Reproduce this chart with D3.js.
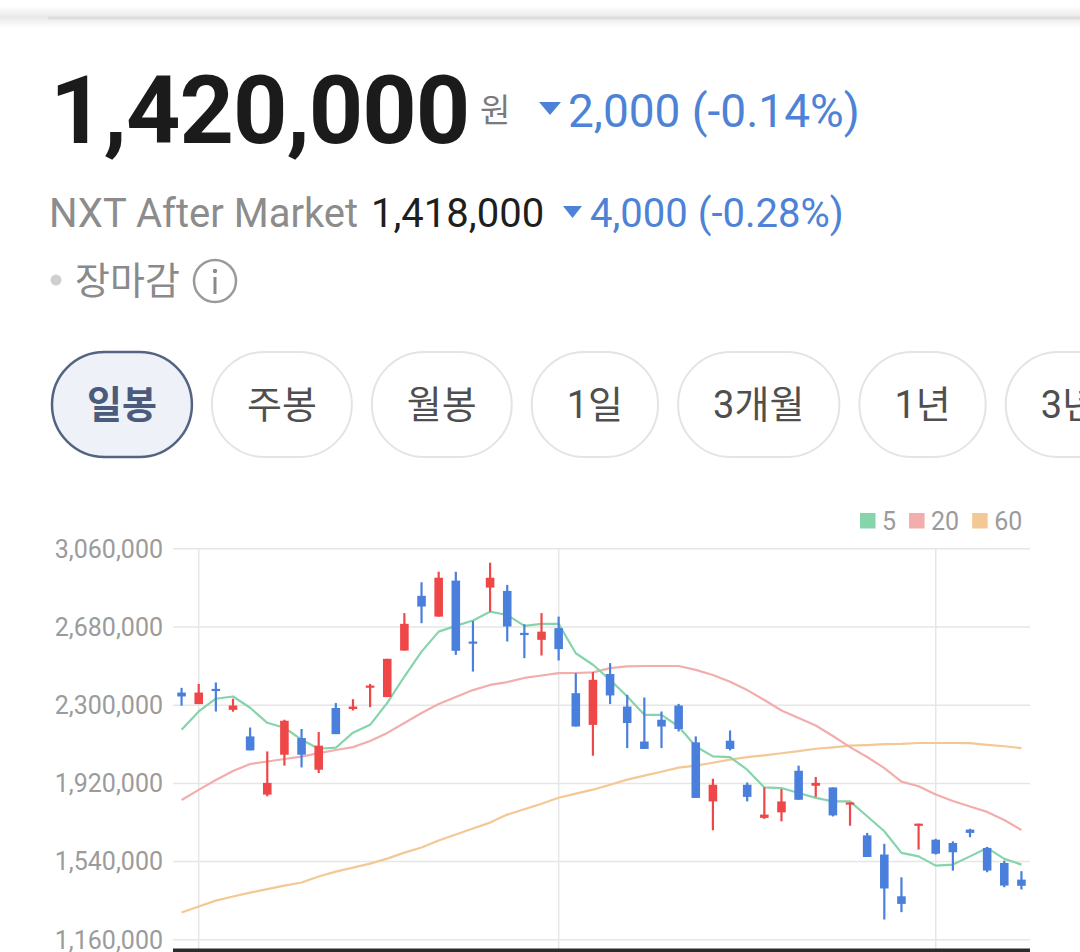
<!DOCTYPE html>
<html>
<head>
<meta charset="utf-8">
<script src="https://cdn.jsdelivr.net/npm/d3@7"></script>
<style>
  body { margin: 0; background: #fff; }
  svg { display: block; font-family: Roboto, "Noto Sans CJK KR", sans-serif; }
</style>
</head>
<body>
<svg id="page" width="1080" height="952"></svg>
<script>
// ---- header values ----
var priceText = "1,420,000", unitText = "원", changeText = "2,000 (-0.14%)";
var afterLabel = "NXT After Market", afterPrice = "1,418,000", afterChange = "4,000 (-0.28%)";
var statusText = "장마감";
var periodLabels = ["일봉", "주봉", "월봉", "1일", "3개월", "1년", "3년"];

// ---- daily candles (won) ----
var openP = [2359000, 2303000, 2377000, 2275000, 2146000, 1863000, 2057000, 2138000, 1984000, 2284000,
             2279000, 2388000, 2337000, 2563000, 2829000, 2728000, 2903000, 2607000, 2869000, 2853000,
             2649000, 2615000, 2672000, 2356000, 2202000, 2449000, 2291000, 2121000, 2227000, 2296000,
             2117000, 1830000, 2125000, 1911000, 1750000, 1777000, 1979000, 1906000, 1898000, 1819000,
             1665000, 1572000, 1369000, 1714000, 1644000, 1628000, 1693000, 1604000, 1531000, 1450000];
var highP = [2382000, 2401000, 2408000, 2329000, 2189000, 2073000, 2227000, 2182000, 2167000, 2308000,
             2327000, 2401000, 2523000, 2745000, 2895000, 2946000, 2946000, 2707000, 2990000, 2882000,
             2691000, 2745000, 2728000, 2453000, 2458000, 2502000, 2348000, 2335000, 2267000, 2304000,
             2146000, 1940000, 2175000, 1922000, 1898000, 1890000, 2004000, 1949000, 1898000, 1825000,
             1677000, 1624000, 1461000, 1722000, 1648000, 1636000, 1697000, 1609000, 1542000, 1491000];
var lowP = [2295000, 2303000, 2267000, 2266000, 2078000, 1855000, 2004000, 1995000, 1968000, 2157000,
            2272000, 2288000, 2337000, 2563000, 2696000, 2728000, 2542000, 2461000, 2752000, 2607000,
            2526000, 2539000, 2515000, 2194000, 2052000, 2303000, 2089000, 2085000, 2089000, 2170000,
            1847000, 1690000, 2078000, 1830000, 1745000, 1733000, 1838000, 1852000, 1757000, 1712000,
            1560000, 1256000, 1292000, 1596000, 1572000, 1494000, 1656000, 1486000, 1413000, 1402000];
var closeP = [2340000, 2359000, 2369000, 2296000, 2078000, 1920000, 2222000, 2057000, 2101000, 2157000,
              2291000, 2393000, 2523000, 2693000, 2777000, 2917000, 2562000, 2597000, 2917000, 2680000,
              2639000, 2655000, 2570000, 2194000, 2421000, 2345000, 2211000, 2085000, 2194000, 2182000,
              1847000, 1911000, 2085000, 1852000, 1766000, 1830000, 1838000, 1920000, 1762000, 1825000,
              1560000, 1407000, 1332000, 1722000, 1576000, 1583000, 1677000, 1494000, 1421000, 1420000];

// ---- moving averages as drawn ----
var ma5 = [2178000, 2267000, 2329000, 2340000, 2285000, 2212000, 2188000, 2130000, 2086000, 2091000,
           2164000, 2202000, 2309000, 2437000, 2558000, 2655000, 2683000, 2709000, 2752000, 2736000,
           2683000, 2693000, 2693000, 2550000, 2494000, 2421000, 2340000, 2251000, 2251000, 2194000,
           2097000, 2049000, 2045000, 1984000, 1898000, 1895000, 1871000, 1847000, 1830000, 1830000,
           1758000, 1685000, 1580000, 1563000, 1518000, 1523000, 1563000, 1604000, 1551000, 1523000];
var ma20 = [1837000, 1886000, 1934000, 1978000, 2012000, 2024000, 2036000, 2048000, 2065000, 2080000,
            2094000, 2124000, 2163000, 2211000, 2260000, 2303000, 2337000, 2371000, 2396000, 2410000,
            2430000, 2442000, 2453000, 2454000, 2457000, 2478000, 2486000, 2488000, 2488000, 2488000,
            2469000, 2444000, 2412000, 2371000, 2323000, 2272000, 2235000, 2199000, 2148000, 2094000,
            2046000, 1992000, 1926000, 1904000, 1864000, 1832000, 1805000, 1779000, 1740000, 1691000];
var ma60 = [1290000, 1319000, 1348000, 1368000, 1387000, 1404000, 1421000, 1436000, 1465000, 1489000,
            1508000, 1528000, 1552000, 1581000, 1606000, 1640000, 1669000, 1698000, 1727000, 1766000,
            1792000, 1819000, 1848000, 1868000, 1887000, 1911000, 1936000, 1955000, 1974000, 1994000,
            2004000, 2018000, 2033000, 2045000, 2054000, 2064000, 2074000, 2086000, 2093000, 2101000,
            2104000, 2108000, 2110000, 2114000, 2114000, 2114000, 2113000, 2105000, 2098000, 2089000];

var yTicks = [1160000, 1540000, 1920000, 2300000, 2680000, 3060000];
var monthStarts = [1, 22, 44];            // candles that open a new month
var legendLabels = ["5", "20", "60"];

// ---- styles ----
var upColor = "#ef4747", downColor = "#4a7fdc";
var maColors = ["#86d4ab", "#f2adad", "#f3c894"];
var blue = "#4d82d6";

var svg = d3.select("#page");

// top card shadow
var defs = svg.append("defs");
var sh = defs.append("linearGradient").attr("id", "shade").attr("x1", 0).attr("y1", 0).attr("x2", 0).attr("y2", 1);
sh.append("stop").attr("offset", "0%").attr("stop-color", "#fff");
sh.append("stop").attr("offset", "50%").attr("stop-color", "#e9e9e9");
sh.append("stop").attr("offset", "100%").attr("stop-color", "#fff");
svg.append("rect").attr("x", 0).attr("y", 6).attr("width", 1080).attr("height", 22).attr("fill", "url(#shade)");
svg.append("line").attr("x1", 48).attr("x2", 1080).attr("y1", 18).attr("y2", 18)
    .attr("stroke", "#dcdcdc").attr("stroke-width", 3);

// ---- header ----
svg.append("text").attr("x", 50).attr("y", 143)
    .style("font-size", "95px").style("font-weight", 700).style("fill", "#1b1b1b")
    .style("letter-spacing", "-1px")
    .text(priceText);
svg.append("text").attr("x", 480).attr("y", 122)
    .style("font-size", "33px").style("fill", "#7a7a7a").text(unitText);
svg.append("path").attr("d", "M539,102 L561,102 L550,115 Z").attr("fill", blue);
svg.append("text").attr("x", 568).attr("y", 127)
    .style("font-size", "46px").style("fill", blue).text(changeText);

svg.append("text").attr("x", 49).attr("y", 227)
    .style("font-size", "40px").style("fill", "#8c8c8c").text(afterLabel);
svg.append("text").attr("x", 371).attr("y", 227)
    .style("font-size", "40px").style("fill", "#1e1e1e").text(afterPrice);
svg.append("path").attr("d", "M563,206 L582,206 L572.5,218 Z").attr("fill", blue);
svg.append("text").attr("x", 590).attr("y", 227)
    .style("font-size", "40px").style("fill", blue).text(afterChange);

svg.append("circle").attr("cx", 56).attr("cy", 280).attr("r", 5.5).attr("fill", "#cfcfcf");
svg.append("text").attr("x", 75).attr("y", 294)
    .style("font-size", "38px").style("fill", "#8a8a8a").text(statusText);
svg.append("circle").attr("cx", 215).attr("cy", 281).attr("r", 21)
    .attr("fill", "none").attr("stroke", "#9a9a9a").attr("stroke-width", 2.5);
svg.append("circle").attr("cx", 215).attr("cy", 271).attr("r", 2.2).attr("fill", "#8a8a8a");
svg.append("line").attr("x1", 215).attr("x2", 215).attr("y1", 277).attr("y2", 294)
    .attr("stroke", "#8a8a8a").attr("stroke-width", 3);

// ---- period pills (the last one runs off the screen edge, as in the app) ----
var pills = svg.append("g");
var px = 52;
periodLabels.forEach(function(lbl, i) {
    var g = pills.append("g");
    var t = g.append("text").attr("y", 418)
        .style("font-size", "38px")
        .style("font-weight", i === 0 ? 700 : 400)
        .style("fill", i === 0 ? "#4b5b7c" : "#4f4f4f")
        .text(lbl);
    var w = t.node().getComputedTextLength() + 70;
    g.insert("rect", "text").attr("x", px).attr("y", 352).attr("width", w).attr("height", 105)
        .attr("rx", 52.5)
        .attr("fill", i === 0 ? "#eef1f7" : "#fff")
        .attr("stroke", i === 0 ? "#536482" : "#e4e4e4")
        .attr("stroke-width", i === 0 ? 2.5 : 2);
    t.attr("x", px + w / 2).attr("text-anchor", "middle");
    px += w + 20;
});

// ---- candle chart ----
var n = closeP.length;
var plotLeft = 173, plotRight = 1030, plotTop = 548.3, plotBottom = 939.3;

var x = d3.scaleBand().domain(d3.range(n)).range([plotLeft, plotRight])
    .paddingInner(0.5).paddingOuter(0.25);
var cx = function(i) { return x(i) + x.bandwidth() / 2; };
var y = d3.scaleLinear().domain([1160000, 3060000]).range([plotBottom, plotTop]);

// horizontal grid
svg.append("g").attr("transform", "translate(" + plotLeft + ",0)")
    .call(d3.axisLeft(y).tickValues(yTicks).tickSize(-(plotRight - plotLeft)).tickFormat(""))
    .call(function(g) {
        g.select(".domain").remove();
        g.selectAll("line").attr("stroke", "#e6e6e6").attr("stroke-width", 1.5);
    });
// vertical month grid
svg.append("g").selectAll("line").data(monthStarts).join("line")
    .attr("x1", cx).attr("x2", cx).attr("y1", plotTop).attr("y2", 949)
    .attr("stroke", "#e6e6e6").attr("stroke-width", 1.5);

// y labels
svg.append("g").attr("transform", "translate(" + (plotLeft - 10) + ",0)")
    .call(d3.axisLeft(y).tickValues(yTicks).tickSize(0).tickPadding(0).tickFormat(d3.format(",")))
    .call(function(g) {
        g.select(".domain").remove();
        g.selectAll("text").style("font-size", "25px").style("fill", "#9b9b9b")
            .style("font-family", "Roboto, sans-serif").attr("dy", "0.35em");
    });

// bottom axis line
svg.append("line").attr("x1", plotLeft).attr("x2", plotRight).attr("y1", 950.5).attr("y2", 950.5)
    .attr("stroke", "#2b2b2b").attr("stroke-width", 4);

// moving average lines
var maSeries = [ma60, ma20, ma5];
var maCol = [maColors[2], maColors[1], maColors[0]];
var line = d3.line().x(function(d, i) { return cx(i); }).y(function(d) { return y(d); });
svg.append("g").selectAll("path").data(maSeries).join("path")
    .attr("d", line).attr("fill", "none")
    .attr("stroke", function(d, i) { return maCol[i]; })
    .attr("stroke-width", 2.2).attr("stroke-linejoin", "round");

// candles
var candleColor = function(i) { return closeP[i] >= openP[i] ? upColor : downColor; };
var cg = svg.append("g");
cg.selectAll("line").data(d3.range(n)).join("line")
    .attr("x1", cx).attr("x2", cx)
    .attr("y1", function(i) { return y(highP[i]); })
    .attr("y2", function(i) { return y(lowP[i]); })
    .attr("stroke", candleColor).attr("stroke-width", 2.2);
cg.selectAll("rect").data(d3.range(n)).join("rect")
    .attr("x", function(i) { return x(i); })
    .attr("width", x.bandwidth())
    .attr("y", function(i) { return y(Math.max(openP[i], closeP[i])); })
    .attr("height", function(i) { return Math.max(2.2, Math.abs(y(openP[i]) - y(closeP[i]))); })
    .attr("fill", candleColor);

// legend
var lg = svg.append("g");
var lx = 860;
legendLabels.forEach(function(lbl, i) {
    lg.append("rect").attr("x", lx).attr("y", 513).attr("width", 15.5).attr("height", 15.5)
        .attr("fill", maColors[i]);
    var t = lg.append("text").attr("x", lx + 22).attr("y", 530)
        .style("font-size", "25px").style("fill", "#9b9b9b").text(lbl);
    lx += 22 + t.node().getComputedTextLength() + 13;
});
</script>
</body>
</html>
